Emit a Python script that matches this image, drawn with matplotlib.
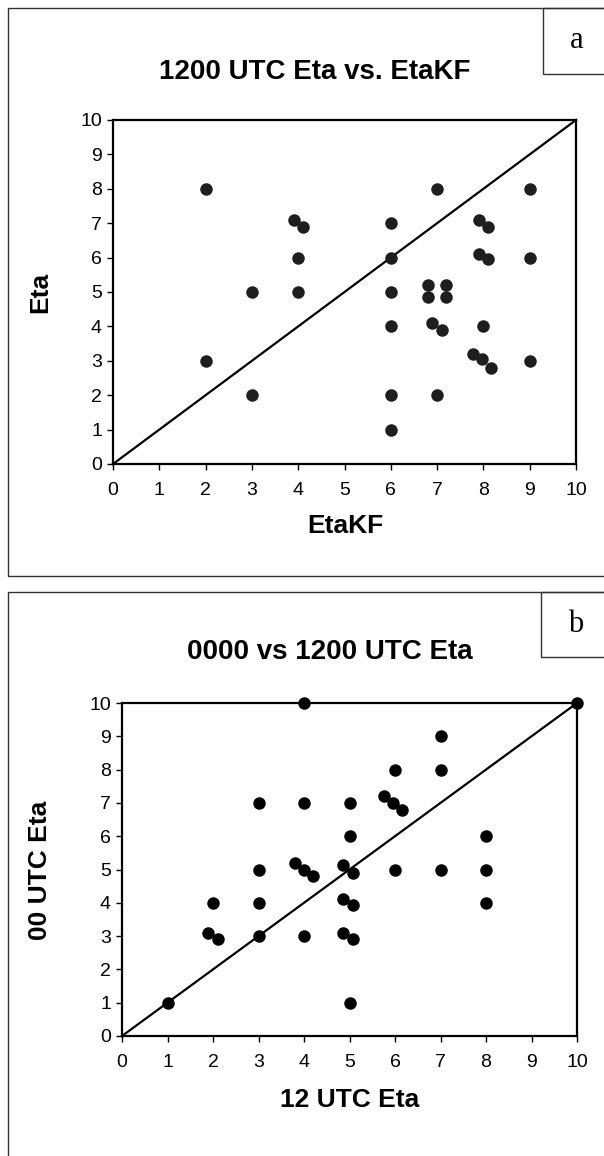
import matplotlib
matplotlib.use("Agg")
import matplotlib.pyplot as plt
from matplotlib.patches import Rectangle

# panel a: 1200 UTC Eta vs EtaKF
a_x = [2, 3.9, 4.1, 4, 3, 4, 2, 3,
       7, 9, 6, 7.9, 8.1, 6, 7.9, 8.1, 9, 6,
       6.8, 7.2, 6.8, 7.2, 6, 6.9, 7.1, 8, 7.77, 7.96, 8.17, 9, 6, 7, 6]
a_y = [8, 7.1, 6.9, 6, 5, 5, 3, 2,
       8, 8, 7, 7.1, 6.9, 6, 6.1, 5.95, 6, 5,
       5.2, 5.2, 4.85, 4.85, 4, 4.1, 3.9, 4, 3.2, 3.05, 2.8, 3, 2, 2, 1]

# panel b: 0000 vs 1200 UTC Eta
b_x = [1, 2, 1.9, 2.1, 3, 3, 3, 3, 4, 3.8, 4, 4.2, 4,
       5, 4.85, 4.85, 4.85, 5, 7, 6, 7, 5.75, 5.95, 6.15, 5, 8,
       5.07, 6, 7, 8, 5.07, 8, 5.07, 4, 10]
b_y = [1, 4, 3.1, 2.9, 7, 5, 4, 3, 7, 5.2, 5, 4.8, 3,
       7, 5.15, 4.1, 3.1, 1, 9, 8, 8, 7.2, 7.0, 6.8, 6, 6,
       4.9, 5, 5, 5, 3.93, 4, 2.9, 10, 10]

ticks = list(range(0, 11))
W, H = 604, 1156

fig = plt.figure(figsize=(W / 100, H / 100), dpi=100)
plt.rcParams['font.family'] = ['Liberation Sans', 'DejaVu Sans']


def px(x, y):
    # pixel coords (top-left origin) -> figure fraction
    return x / W, 1 - y / H


def box(x0, y0, x1, y1, lw=1.0):
    fig.patches.append(Rectangle((x0 / W, 1 - y1 / H), (x1 - x0) / W, (y1 - y0) / H,
                                 transform=fig.transFigure, fill=False,
                                 edgecolor='#333333', linewidth=lw))


def panel(rect, xs, ys, color, title, title_xy, xlabel, xlabel_xy, ylabel, ylabel_xy,
          letter, letter_box):
    ax = fig.add_axes(rect)
    ax.set_xlim(0, 10)
    ax.set_ylim(0, 10)
    ax.set_xticks(ticks)
    ax.set_yticks(ticks)
    ax.tick_params(direction='out', length=4, width=1, labelsize=14)
    ax.tick_params(axis='x', pad=9)
    ax.tick_params(axis='y', pad=4)
    for s in ax.spines.values():
        s.set_linewidth(1.6)
    ax.plot([0, 10], [0, 10], color='black', linewidth=1.6, clip_on=False, zorder=2)
    ax.plot(xs, ys, 'o', color=color, markersize=9, markeredgewidth=0,
            clip_on=False, zorder=3)
    fig.text(*px(*title_xy), title, ha='center', va='center', fontsize=20,
             fontweight='bold')
    fig.text(*px(*xlabel_xy), xlabel, ha='center', va='center', fontsize=19,
             fontweight='bold')
    fig.text(*px(*ylabel_xy), ylabel, ha='center', va='center', fontsize=19,
             fontweight='bold', rotation=90)
    lx0, ly0, lx1, ly1 = letter_box
    box(lx0, ly0, lx1 + 20, ly1)
    fig.text(*px((lx0 + 610) / 2, (ly0 + ly1) / 2), letter, ha='center', va='center',
             fontsize=22, family='Liberation Serif')
    return ax


# outer frames
box(8, 8, 640, 576)
box(8, 592, 640, 1180)

panel([113 / W, 1 - 464 / H, 463 / W, 344 / H], a_x, a_y, '#1e1e1e',
      '1200 UTC Eta vs. EtaKF', (315, 72), 'EtaKF', (345, 526), 'Eta', (40, 292),
      'a', (543, 8, 604, 74))
panel([122 / W, 1 - 1036 / H, 455 / W, 333 / H], b_x, b_y, 'black',
      '0000 vs 1200 UTC Eta', (330, 652), '12 UTC Eta', (350, 1100), '00 UTC Eta',
      (40, 870), 'b', (541, 592, 604, 657))

fig.savefig('out.png', dpi=100)
